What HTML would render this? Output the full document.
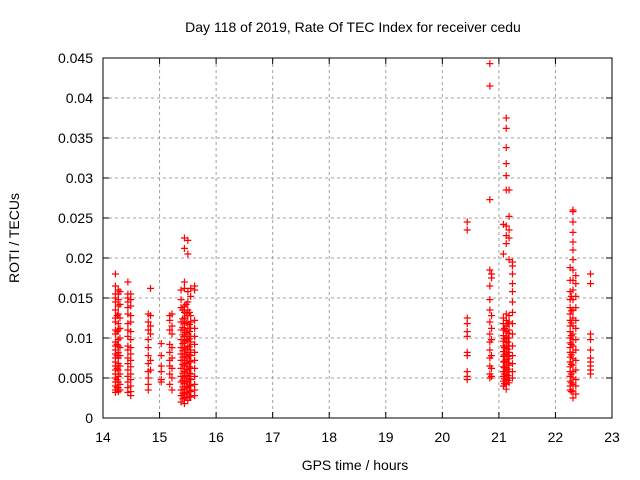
<!DOCTYPE html>
<html><head><meta charset="utf-8"><style>
body{margin:0;background:#fff;}
svg{display:block;font-family:"Liberation Sans",sans-serif;}
</style></head><body>
<svg id="chart" width="640" height="480">
<rect width="640" height="480" fill="#fff"/>
<text x="353" y="32" font-size="14" text-anchor="middle">Day 118 of 2019, Rate Of TEC Index for receiver cedu</text>
<text x="355" y="470" font-size="14" text-anchor="middle">GPS time / hours</text>
<text x="19" y="238" font-size="14" text-anchor="middle" transform="rotate(-90 19 238)">ROTI / TECUs</text>
<g id="grid"></g><g id="ticks"></g><g id="marks"></g>
<rect x="103" y="58" width="509" height="360" fill="none" stroke="#000" stroke-width="1"/>
</svg>
<script>
const xTicks=[14,15,16,17,18,19,20,21,22,23];
const yTicks=[0,0.005,0.01,0.015,0.02,0.025,0.03,0.035,0.04,0.045];
const yTickLabels=["0","0.005","0.01","0.015","0.02","0.025","0.03","0.035","0.04","0.045"];
// sub-column times (hours) and their ROTI values
const colTimes=[14.22,14.27,14.30,14.44,14.49,14.80,14.84,15.03,15.18,15.22,15.38,15.44,15.50,15.55,15.62,20.44,20.84,20.87,21.08,21.13,21.18,21.24,22.26,22.31,22.36,22.62,15.41,15.47,15.53,21.10,21.16,22.28,14.25];
const colValues=[
[0.018,0.0165,0.0155,0.015,0.0145,0.0135,0.0125,0.012,0.011,0.0105,0.0095,0.009,0.0085,0.008,0.0075,0.007,0.0065,0.006,0.0055,0.005,0.0045,0.004,0.0035,0.0032],
[0.016,0.0155,0.0148,0.014,0.013,0.0118,0.011,0.0098,0.009,0.0082,0.0075,0.0068,0.006,0.0052,0.0045,0.0038,0.0033],
[0.0158,0.0142,0.0125,0.0112,0.01,0.0088,0.0078,0.0065,0.0055,0.0042,0.0035],
[0.017,0.0155,0.015,0.0145,0.0138,0.013,0.0118,0.011,0.0102,0.009,0.0085,0.0075,0.0068,0.006,0.0052,0.0045,0.0038,0.0032],
[0.0155,0.0148,0.014,0.0128,0.012,0.0108,0.0098,0.0088,0.008,0.0072,0.0064,0.0055,0.0048,0.004,0.0033,0.0028],
[0.013,0.012,0.011,0.0098,0.0088,0.0078,0.0068,0.0058,0.005,0.0042,0.0035],
[0.0162,0.0128,0.0115,0.0105,0.0072,0.006],
[0.0093,0.0078,0.0065,0.0058,0.0048,0.0045],
[0.0128,0.0122,0.011,0.0092,0.0082,0.0072,0.0065,0.0055,0.0042],
[0.013,0.0115,0.0105,0.0088,0.0075,0.0062,0.005,0.0035],
[0.016,0.0148,0.0138,0.012,0.011,0.0098,0.0088,0.008,0.0072,0.0062,0.0052,0.0045,0.0035,0.0028,0.002],
[0.0225,0.0212,0.017,0.0162,0.014,0.0132,0.0125,0.0118,0.011,0.0102,0.0095,0.0088,0.008,0.0072,0.0065,0.0058,0.005,0.0043,0.0036,0.003,0.0025,0.0018],
[0.0222,0.0205,0.0158,0.0145,0.0135,0.0128,0.012,0.0112,0.0105,0.0098,0.009,0.0082,0.0075,0.0068,0.006,0.0052,0.0045,0.0038,0.003,0.0022],
[0.0162,0.0152,0.0128,0.012,0.0112,0.0102,0.0095,0.0085,0.0078,0.007,0.0062,0.0055,0.0048,0.004,0.0033,0.0026],
[0.0165,0.016,0.0122,0.0112,0.0102,0.0092,0.0082,0.0072,0.0062,0.0052,0.0042,0.0035,0.0028],
[0.0245,0.0235,0.0125,0.0118,0.0108,0.0102,0.0082,0.0078,0.0058,0.0052,0.0048],
[0.0443,0.0415,0.0273,0.0185,0.0165,0.0148,0.0135,0.012,0.0105,0.0095,0.0085,0.0075,0.0065,0.0055,0.005],
[0.018,0.0175,0.0128,0.0112,0.0098,0.0078,0.0062,0.0052],
[0.0205,0.0242,0.0125,0.0118,0.011,0.0103,0.0096,0.009,0.0083,0.0077,0.007,0.0064,0.0058,0.0052,0.0046,0.004],
[0.0375,0.0362,0.0338,0.0318,0.0303,0.0285,0.024,0.0228,0.0218,0.013,0.0122,0.0115,0.0108,0.0101,0.0094,0.0087,0.008,0.0073,0.0066,0.006,0.0054,0.0048,0.0042,0.0036],
[0.0285,0.0252,0.0235,0.0225,0.0198,0.0128,0.012,0.011,0.01,0.009,0.0082,0.0074,0.0066,0.0058,0.005,0.0044],
[0.0195,0.019,0.018,0.0168,0.0158,0.0145,0.0132,0.0118,0.0105,0.009,0.0078,0.0068,0.0058,0.005],
[0.0188,0.0172,0.0158,0.0148,0.0138,0.013,0.0122,0.0115,0.0108,0.01,0.0094,0.0088,0.0082,0.0076,0.007,0.0064,0.0058,0.0052,0.0046,0.004,0.0035],
[0.026,0.0258,0.0245,0.0232,0.022,0.021,0.0198,0.0185,0.0172,0.016,0.0148,0.0135,0.0125,0.0115,0.0105,0.0098,0.009,0.0082,0.0074,0.0066,0.0058,0.005,0.0042,0.0034,0.0025],
[0.0178,0.0168,0.0152,0.0138,0.0122,0.0112,0.0098,0.0085,0.0072,0.006,0.0048,0.004,0.003],
[0.018,0.0168,0.0105,0.0098,0.0085,0.0075,0.007,0.0065,0.006,0.0055],
[0.0135,0.0124,0.0113,0.0104,0.0093,0.0084,0.0076,0.0067,0.0056,0.0047,0.0039,0.0031,0.0024],
[0.0142,0.0131,0.0119,0.0107,0.0097,0.0086,0.0077,0.0069,0.0061,0.0053,0.0046,0.0039,0.0032,0.0026],
[0.0132,0.0117,0.0108,0.0099,0.0089,0.0079,0.0071,0.0064,0.0056,0.0049,0.0041,0.0034,0.0027],
[0.0112,0.0099,0.0088,0.0079,0.0071,0.0063,0.0055,0.0049,0.0043],
[0.0118,0.0106,0.0095,0.0086,0.0077,0.0069,0.0061,0.0053,0.0047],
[0.0152,0.0134,0.0119,0.0103,0.0092,0.0079,0.0067,0.0055,0.0044,0.0033],
[0.0128,0.0108,0.0092,0.0078,0.0062,0.0048,0.0038]
];
const X0=103,X1=612,Y0=418,Y1=58;
const xs=t=>X0+(t-14)/(23-14)*(X1-X0);
const ys=v=>Y0-v/0.045*(Y0-Y1);
const NS="http://www.w3.org/2000/svg";
function mk(tag,attrs,parent){const e=document.createElementNS(NS,tag);for(const k in attrs)e.setAttribute(k,attrs[k]);parent.appendChild(e);return e;}
const grid=document.getElementById('grid'),ticks=document.getElementById('ticks'),marks=document.getElementById('marks');
xTicks.forEach((t,i)=>{const x=xs(t);
 if(i>0&&i<xTicks.length-1){const g=mk('line',{x1:x,x2:x,y1:Y1,y2:Y0,stroke:'#a0a0a0','stroke-dasharray':'3,3'},grid);
 
 }
 const a=mk('line',{x1:x,x2:x,y1:Y0,y2:Y0-6,stroke:'#000'},ticks);
 const b=mk('line',{x1:x,x2:x,y1:Y1,y2:Y1+6,stroke:'#000'},ticks);
 const l=mk('text',{x:x,y:442,'font-size':14,'text-anchor':'middle'},ticks);l.textContent=t;
 
 
});
yTicks.forEach((v,i)=>{const y=ys(v);
 if(i>0&&i<yTicks.length-1){const g=mk('line',{x1:X0,x2:X1,y1:y,y2:y,stroke:'#a0a0a0','stroke-dasharray':'3,3'},grid);
 
 }
 const a=mk('line',{x1:X0,x2:X0+6,y1:y,y2:y,stroke:'#000'},ticks);
 const b=mk('line',{x1:X1,x2:X1-6,y1:y,y2:y,stroke:'#000'},ticks);
 const l=mk('text',{x:93,y:y+5,'font-size':14,'text-anchor':'end'},ticks);l.textContent=yTickLabels[i];
 
 
});
colTimes.forEach((t,i)=>{colValues[i].forEach(v=>{const x=xs(t),y=ys(v);
 const p=mk('path',{d:`M${x-3.5} ${y}H${x+3.5}M${x} ${y-3.5}V${y+3.5}`,stroke:'#f00','stroke-width':1.2},marks);
 
 
});});
</script>
</body></html>
